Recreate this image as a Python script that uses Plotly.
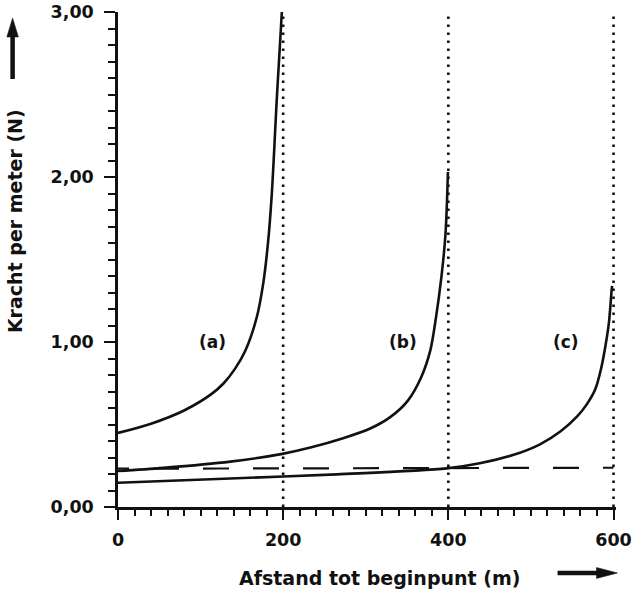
import plotly.graph_objects as go

# ---------------- data ----------------
x_a = [0, 40, 80, 113, 128, 142, 154, 168, 176, 182, 186, 189, 192, 195.5, 198.4]
y_a = [0.449, 0.505, 0.585, 0.684, 0.750, 0.840, 0.945, 1.15, 1.36, 1.62, 1.88, 2.15, 2.45, 2.75, 3.0]

x_b = [0, 55, 136, 199, 233, 273.5, 306, 330, 351, 367, 378, 385, 391.5, 396.5, 399.5]
y_b = [0.218, 0.237, 0.275, 0.322, 0.360, 0.418, 0.477, 0.546, 0.645, 0.785, 0.946, 1.148, 1.390, 1.652, 2.03]

x_c = [0, 136, 265, 398, 438, 479, 511, 536, 556, 568, 578, 585, 590, 594.3, 597.7, 598.3]
y_c = [0.147, 0.173, 0.198, 0.234, 0.265, 0.316, 0.380, 0.459, 0.549, 0.625, 0.715, 0.840, 0.970, 1.111, 1.313, 1.34]

x_dash = [0, 600]
y_dash = [0.232, 0.238]

asymptotes = [200, 400, 600]
asym_top = 3.0

labels = ["(a)", "(b)", "(c)"]
label_x = [115, 345, 543]
label_y = [1.0, 1.0, 1.0]

x_tickvals = [0, 200, 400, 600]
x_ticktext = ["0", "200", "400", "600"]
y_tickvals = [0, 1, 2, 3]
y_ticktext = ["0,00", "1,00", "2,00", "3,00"]

x_title = "Afstand tot beginpunt (m)"
y_title = "Kracht per meter (N)"

# ---------------- layout geometry ----------------
W, H = 635, 594
L, R, T, B = 118, 18.5, 12, 87
PW = W - L - R
PH = H - T - B


def px_x(px):
    return (px - L) / PW


def px_y(py):
    return (H - B - py) / PH


FONT = "DejaVu Sans"
BLACK = "#111111"

fig = go.Figure()

for xs, ys in [(x_a, y_a), (x_b, y_b), (x_c, y_c)]:
    fig.add_trace(go.Scatter(x=xs, y=ys, mode="lines",
                             line=dict(color=BLACK, width=2.6, shape="spline", smoothing=0.9),
                             showlegend=False, hoverinfo="skip"))

fig.add_trace(go.Scatter(x=x_dash, y=y_dash, mode="lines",
                         line=dict(color=BLACK, width=2.2, dash="11px,24px,26px,24px,15px,0px"),
                         showlegend=False, hoverinfo="skip"))

for xa in asymptotes:
    fig.add_trace(go.Scatter(x=[xa, xa], y=[0, asym_top], mode="lines",
                             line=dict(color=BLACK, width=2.6, dash="2.5px,5.5px"),
                             showlegend=False, hoverinfo="skip"))

for t, lx, ly in zip(labels, label_x, label_y):
    fig.add_annotation(x=lx, y=ly, xref="x", yref="y", text=t, showarrow=False,
                       font=dict(family=FONT, size=17, color=BLACK, weight="bold"))

# axis titles
fig.add_annotation(x=px_x(380), y=px_y(578), xref="paper", yref="paper", text=x_title,
                   showarrow=False, xanchor="center", yanchor="middle",
                   font=dict(family=FONT, size=19, color=BLACK, weight="bold"))
fig.add_annotation(x=px_x(15), y=px_y(221), xref="paper", yref="paper", text=y_title,
                   showarrow=False, xanchor="center", yanchor="middle", textangle=-90,
                   font=dict(family=FONT, size=19, color=BLACK, weight="bold"))

# arrows (drawn as shapes)
fig.add_shape(type="line", xref="paper", yref="paper",
              x0=px_x(558), x1=px_x(600), y0=px_y(573), y1=px_y(573),
              line=dict(color=BLACK, width=4.5))
fig.add_shape(type="path", xref="paper", yref="paper",
              path="M {:.5f} {:.5f} L {:.5f} {:.5f} L {:.5f} {:.5f} Z".format(
                  px_x(597), px_y(567.5), px_x(618), px_y(573), px_x(597), px_y(578.5)),
              fillcolor=BLACK, line=dict(color=BLACK, width=0.5))
fig.add_shape(type="line", xref="paper", yref="paper",
              x0=px_x(12.5), x1=px_x(12.5), y0=px_y(79), y1=px_y(34),
              line=dict(color=BLACK, width=4.5))
fig.add_shape(type="path", xref="paper", yref="paper",
              path="M {:.5f} {:.5f} L {:.5f} {:.5f} L {:.5f} {:.5f} Z".format(
                  px_x(6.7), px_y(37), px_x(12.5), px_y(18), px_x(18.3), px_y(37)),
              fillcolor=BLACK, line=dict(color=BLACK, width=0.5))

tickfont = dict(family=FONT, size=17.5, color=BLACK, weight="bold")

fig.update_layout(
    width=W, height=H,
    margin=dict(l=L, r=R, t=T, b=B, pad=0, autoexpand=False),
    paper_bgcolor="white", plot_bgcolor="white",
    showlegend=False,
    xaxis=dict(range=[0, 603], showgrid=False, zeroline=False, automargin=False,
               showline=True, linecolor=BLACK, linewidth=2.5,
               tickmode="array", tickvals=x_tickvals, ticktext=x_ticktext,
               ticks="outside", ticklen=10, tickwidth=2.2, tickcolor=BLACK,
               ticklabelstandoff=5, tickfont=tickfont,
               minor=dict(tickmode="linear", tick0=0, dtick=20, ticks="outside",
                          ticklen=6, tickwidth=2, tickcolor=BLACK, showgrid=False)),
    yaxis=dict(range=[0, 3.0], showgrid=False, zeroline=False, automargin=False,
               showline=True, linecolor=BLACK, linewidth=2.5,
               tickmode="array", tickvals=y_tickvals, ticktext=y_ticktext,
               ticks="outside", ticklen=11, tickwidth=2.2, tickcolor=BLACK,
               ticklabelstandoff=7, tickfont=tickfont,
               minor=dict(tickmode="linear", tick0=0, dtick=0.1, ticks="outside",
                          ticklen=7, tickwidth=2, tickcolor=BLACK, showgrid=False)),
)

fig.write_html("out.html", config={"displayModeBar": False},
               post_script="document.body.style.margin='0px';document.body.style.padding='0px';")
